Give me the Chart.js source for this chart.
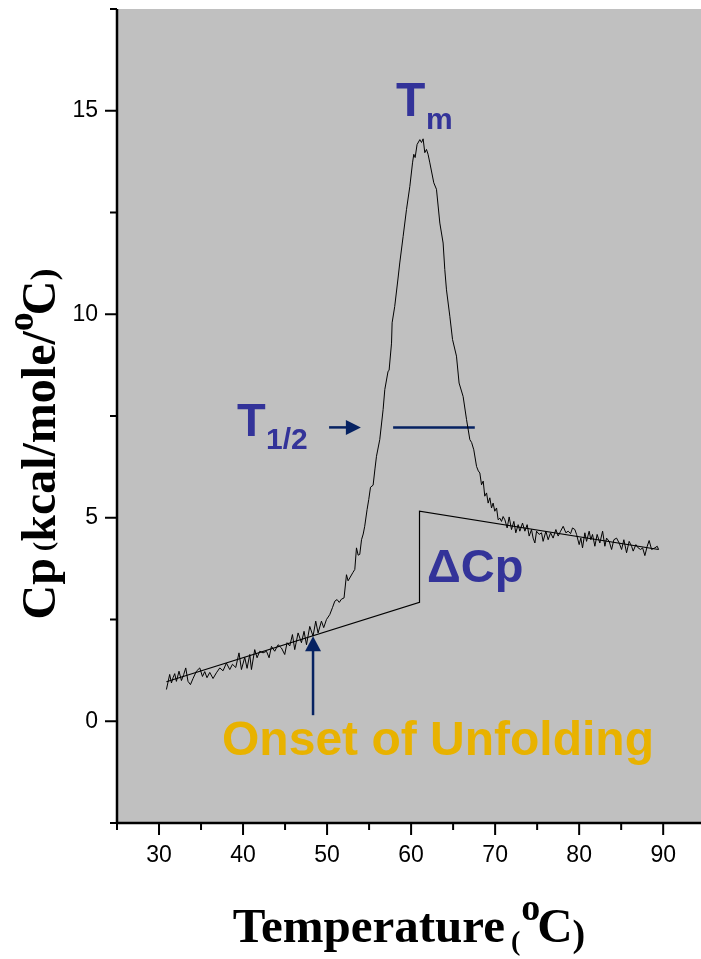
<!DOCTYPE html>
<html>
<head>
<meta charset="utf-8">
<title>DSC thermogram</title>
<script src="https://cdn.jsdelivr.net/npm/chart.js@4.4.1/dist/chart.umd.min.js"></script>
<style>
  html, body { margin: 0; padding: 0; background: #fff; }
  #wrap { width: 701px; height: 959px; }
</style>
</head>
<body>
<div id="wrap"><canvas id="dscChart" width="701" height="959"></canvas></div>
<script>
// excess heat capacity trace (°C, kcal/mole/°C)
const temperature = [
  30.88, 31.27, 31.48, 31.67, 31.87, 32.07, 32.38, 32.67, 32.94, 33.18,
  33.45, 33.74, 34.05, 34.45, 34.85, 35.17, 35.44, 35.71, 36.04, 36.43,
  36.83, 37.23, 37.62, 38.02, 38.42, 38.74, 39.13, 39.52, 39.81, 40.20,
  40.48, 40.80, 41.00, 41.39, 41.67, 41.99, 42.38, 42.79, 43.10, 43.38,
  43.77, 44.17, 44.57, 44.96, 45.24, 45.56, 45.88, 46.15, 46.55, 46.95,
  47.26, 47.55, 47.94, 48.33, 48.65, 48.93, 49.33, 49.60, 49.93, 50.32,
  50.64, 50.92, 51.19, 51.45, 51.71, 52.02, 52.31, 52.50, 52.70, 53.06,
  53.30, 53.50, 53.70, 53.89, 54.10, 54.30, 54.48, 54.76, 54.96, 55.17,
  55.48, 55.70, 55.88, 56.27, 56.67, 56.87, 57.26, 57.38, 57.67, 57.74,
  58.05, 58.45, 58.65, 59.05, 59.45, 59.85, 60.17, 60.32, 60.48, 60.71,
  61.04, 61.24, 61.43, 61.63, 61.83, 62.02, 62.23, 62.70, 63.02, 63.42,
  63.81, 64.01, 64.21, 64.61, 64.93, 65.40, 65.71, 66.19, 66.60, 66.99,
  67.20, 67.46, 67.79, 68.00, 68.18, 68.38, 68.58, 68.77, 68.98, 69.17,
  69.37, 69.57, 69.76, 69.96, 70.17, 70.36, 70.56, 70.76, 70.95, 71.16,
  71.43, 71.67, 71.95, 72.23, 72.46, 72.74, 72.94, 73.26, 73.54, 73.81,
  74.05, 74.33, 74.52, 74.73, 74.93, 75.24, 75.52, 75.71, 76.04, 76.31,
  76.60, 76.90, 77.23, 77.50, 77.79, 78.10, 78.42, 78.69, 78.98, 79.21,
  79.49, 79.69, 80.00, 80.20, 80.40, 80.68, 80.88, 81.19, 81.39, 81.59,
  81.87, 82.14, 82.46, 82.79, 83.06, 83.26, 83.57, 83.86, 84.13, 84.45,
  84.76, 85.05, 85.32, 85.64, 85.95, 86.24, 86.43, 86.75, 87.02, 87.31,
  87.55, 87.82, 88.10, 88.33, 88.62, 89.01, 89.29, 89.45
];
const cp = [
  0.78, 1.15, 0.94, 1.07, 1.17, 0.98, 1.23, 1.00, 1.15, 1.31,
  0.98, 0.90, 1.05, 1.23, 1.31, 1.10, 1.22, 1.07, 1.20, 1.05,
  1.19, 1.31, 1.24, 1.43, 1.27, 1.40, 1.32, 1.68, 1.27, 1.57,
  1.30, 1.64, 1.27, 1.76, 1.56, 1.72, 1.68, 1.72, 1.56, 1.84,
  1.72, 1.88, 1.80, 1.64, 1.93, 1.85, 2.13, 1.76, 2.17, 1.93,
  2.21, 1.88, 2.33, 2.09, 2.46, 2.17, 2.46, 2.30, 2.50, 2.62,
  2.79, 2.95, 2.99, 2.92, 3.00, 3.03, 3.60, 3.45, 3.52, 3.65,
  3.73, 4.26, 4.08, 4.10, 4.46, 4.60, 4.79, 5.20, 5.45, 5.75,
  5.80, 6.20, 6.51, 6.92, 7.66, 8.15, 8.60, 8.62, 9.29, 9.79,
  10.19, 10.89, 11.26, 11.91, 12.57, 13.14, 13.72, 13.93, 13.85, 14.17,
  14.29, 14.22, 14.31, 13.97, 14.05, 13.93, 13.72, 13.23, 13.07, 12.24,
  11.75, 11.10, 10.60, 9.95, 9.38, 8.97, 8.31, 7.98, 7.41, 6.92,
  6.85, 6.67, 6.26, 6.15, 6.10, 5.81, 5.90, 5.53, 5.61, 5.36,
  5.49, 5.24, 5.36, 5.16, 5.24, 4.95, 4.99, 4.91, 5.03, 4.95,
  4.75, 5.02, 4.71, 4.91, 4.63, 4.83, 4.67, 4.87, 4.67, 4.83,
  4.55, 4.71, 4.50, 4.38, 4.67, 4.59, 4.63, 4.42, 4.67, 4.46,
  4.63, 4.50, 4.71, 4.55, 4.67, 4.79, 4.63, 4.67, 4.61, 4.75,
  4.71, 4.59, 4.34, 4.50, 4.26, 4.63, 4.42, 4.67, 4.46, 4.59,
  4.30, 4.59, 4.38, 4.67, 4.30, 4.50, 4.42, 4.22, 4.46, 4.50,
  4.38, 4.22, 4.46, 4.14, 4.42, 4.30, 4.18, 4.34, 4.26, 4.22,
  4.26, 4.07, 4.30, 4.44, 4.22, 4.26, 4.30, 4.22
];

// pre- and post-transition baselines, joined by the ΔCp step
const baselineT = [30.88, 61.0, 61.0, 89.45];
const baselineCp = [0.97, 2.92, 5.16, 4.22];

// half-height chord across the peak (T1/2)
const halfT = [57.86, 67.58];
const halfCp = [7.22, 7.22];

// axis ticks
const xMajor = [30, 40, 50, 60, 70, 80, 90];
const xMinor = [25, 35, 45, 55, 65, 75, 85];
const yMajor = [0, 5, 10, 15];
const yMinor = [-2.5, 2.5, 7.5, 12.5, 17.5];

// annotation anchors in data units
const onsetT = 48.33;
const onsetCp = 2.09;
const halfArrowT = [50.24, 54.02];

const toPoints = (xs, ys) => xs.map((v, i) => ({ x: v, y: ys[i] }));

const SANS = '"Liberation Sans", Arial, sans-serif';
const SERIF = '"Liberation Serif", "Times New Roman", serif';
const BLUE = '#333399';
const NAVY = '#062262';
const GOLD = '#e8b200';

// draw a row of text pieces with their own fonts and offsets
function drawRuns(ctx, runs, cx, baseY) {
  let total = 0;
  runs.forEach(r => {
    ctx.font = r.font;
    r.w = ctx.measureText(r.text).width;
    total += r.w + (r.dx || 0);
  });
  let x = cx - total / 2;
  runs.forEach(r => {
    ctx.font = r.font;
    x += r.dx || 0;
    ctx.fillText(r.text, x, baseY + (r.dy || 0));
    x += r.w;
  });
}

const framePlugin = {
  id: 'frame',
  beforeDraw(chart) {
    const { ctx, chartArea: a } = chart;
    ctx.save();
    ctx.fillStyle = '#ffffff';
    ctx.fillRect(0, 0, chart.width, chart.height);
    ctx.fillStyle = '#c0c0c0';
    ctx.fillRect(a.left, a.top, a.right - a.left, a.bottom - a.top);
    ctx.restore();
  },
  afterDatasetsDraw(chart) {
    const { ctx, chartArea: a, scales: { x, y } } = chart;
    ctx.save();
    ctx.strokeStyle = '#000';
    ctx.lineWidth = 2.5;
    ctx.beginPath();
    ctx.moveTo(a.left, a.top);
    ctx.lineTo(a.left, a.bottom);
    ctx.moveTo(a.left, a.bottom);
    ctx.lineTo(a.right, a.bottom);
    ctx.stroke();

    ctx.lineWidth = 2;
    ctx.beginPath();
    yMajor.forEach(v => {
      const p = y.getPixelForValue(v);
      ctx.moveTo(a.left, p); ctx.lineTo(a.left - 12, p);
    });
    yMinor.forEach(v => {
      const p = y.getPixelForValue(v);
      ctx.moveTo(a.left, p); ctx.lineTo(a.left - 7, p);
    });
    xMajor.forEach(v => {
      const p = x.getPixelForValue(v);
      ctx.moveTo(p, a.bottom); ctx.lineTo(p, a.bottom + 12);
    });
    xMinor.forEach(v => {
      const p = x.getPixelForValue(v);
      ctx.moveTo(p, a.bottom); ctx.lineTo(p, a.bottom + 7);
    });
    ctx.stroke();
    ctx.restore();
  }
};

const notesPlugin = {
  id: 'notes',
  afterDraw(chart) {
    const { ctx, chartArea: a, scales: { x, y } } = chart;
    ctx.save();
    ctx.textBaseline = 'alphabetic';
    ctx.textAlign = 'left';

    // onset arrow pointing up to where the trace leaves the baseline
    const ox = x.getPixelForValue(onsetT);
    const oy = y.getPixelForValue(onsetCp);
    ctx.strokeStyle = NAVY;
    ctx.fillStyle = NAVY;
    ctx.lineWidth = 2.5;
    ctx.beginPath();
    ctx.moveTo(ox, oy + 14);
    ctx.lineTo(ox, oy + 79);
    ctx.stroke();
    ctx.beginPath();
    ctx.moveTo(ox, oy);
    ctx.lineTo(ox - 8, oy + 15);
    ctx.lineTo(ox + 8, oy + 15);
    ctx.closePath();
    ctx.fill();

    // T1/2 arrow
    const hy = y.getPixelForValue(halfCp[0]);
    const hx0 = x.getPixelForValue(halfArrowT[0]);
    const hx1 = x.getPixelForValue(halfArrowT[1]);
    ctx.beginPath();
    ctx.moveTo(hx0, hy);
    ctx.lineTo(hx1 - 14, hy);
    ctx.stroke();
    ctx.beginPath();
    ctx.moveTo(hx1, hy);
    ctx.lineTo(hx1 - 15, hy - 7.5);
    ctx.lineTo(hx1 - 15, hy + 7.5);
    ctx.closePath();
    ctx.fill();

    // blue labels
    ctx.fillStyle = BLUE;
    ctx.font = 'bold 48px ' + SANS;
    ctx.fillText('T', 396, 116);
    ctx.font = 'bold 30px ' + SANS;
    ctx.fillText('m', 426, 129);

    ctx.font = 'bold 47px ' + SANS;
    ctx.fillText('T', 237, 436);
    ctx.font = 'bold 30px ' + SANS;
    ctx.fillText('1/2', 266, 449);

    ctx.font = 'bold 47px ' + SANS;
    ctx.fillText('\u0394Cp', 427, 582);

    // onset label
    ctx.fillStyle = GOLD;
    ctx.font = 'bold 48px ' + SANS;
    ctx.textAlign = 'center';
    ctx.fillText('Onset of Unfolding', 438, 755);
    ctx.textAlign = 'left';

    // axis titles
    ctx.fillStyle = '#000';
    drawRuns(ctx, [
      { text: 'Temperature', font: 'bold 49px ' + SERIF },
      { text: '(', font: 'bold 28px ' + SERIF, dx: 6, dy: 8 },
      { text: 'o', font: 'bold 38px ' + SERIF, dx: 1, dy: -22 },
      { text: 'C', font: 'bold 49px ' + SERIF, dx: -3 },
      { text: ')', font: 'bold 38px ' + SERIF, dy: 4 }
    ], (a.left + a.right) / 2, 942);

    ctx.translate(55, 444);
    ctx.rotate(-Math.PI / 2);
    drawRuns(ctx, [
      { text: 'Cp', font: 'bold 48px ' + SERIF },
      { text: '(', font: 'bold 28px ' + SERIF, dx: 7, dy: -3 },
      { text: 'kcal/mole/', font: 'bold 48px ' + SERIF },
      { text: 'o', font: 'bold 38px ' + SERIF, dy: -22 },
      { text: 'C', font: 'bold 48px ' + SERIF, dx: -3 },
      { text: ')', font: 'bold 36px ' + SERIF, dy: 0 }
    ], 0, 0);
    ctx.restore();
  }
};

Chart.defaults.font.family = SANS;

new Chart(document.getElementById('dscChart'), {
  type: 'line',
  data: {
    datasets: [
      {
        label: 'Cp',
        data: toPoints(temperature, cp),
        borderColor: '#000',
        borderWidth: 1,
        pointRadius: 0,
        tension: 0
      },
      {
        label: 'Baseline',
        data: toPoints(baselineT, baselineCp),
        borderColor: '#000',
        borderWidth: 1.2,
        pointRadius: 0,
        tension: 0
      },
      {
        label: 'Half height',
        data: toPoints(halfT, halfCp),
        borderColor: NAVY,
        borderWidth: 2.5,
        pointRadius: 0,
        tension: 0
      }
    ]
  },
  options: {
    responsive: false,
    animation: false,
    devicePixelRatio: 1,
    layout: { padding: { top: 9, left: 0, right: 0, bottom: 0 } },
    plugins: {
      legend: { display: false },
      tooltip: { enabled: false }
    },
    scales: {
      x: {
        type: 'linear',
        min: 25,
        max: 94.5,
        afterBuildTicks: scale => {
          scale.ticks = xMinor.concat(xMajor).sort((p, q) => p - q).map(v => ({ value: v }));
        },
        ticks: {
          callback: v => (xMajor.includes(v) ? String(v) : null),
          color: '#000',
          font: { size: 23 },
          padding: 7,
          maxRotation: 0,
          autoSkip: false
        },
        grid: { display: false, drawTicks: true, tickLength: 12 },
        border: { display: false },
        afterFit: scale => {
          scale.height = 136;
          scale.paddingLeft = 0;
          scale.paddingRight = 0;
        }
      },
      y: {
        type: 'linear',
        min: -2.5,
        max: 17.5,
        afterBuildTicks: scale => {
          scale.ticks = yMinor.concat(yMajor).sort((p, q) => p - q).map(v => ({ value: v }));
        },
        ticks: {
          callback: v => (yMajor.includes(v) ? String(v) : null),
          color: '#000',
          font: { size: 23 },
          padding: 7,
          autoSkip: false
        },
        grid: { display: false, drawTicks: true, tickLength: 12 },
        border: { display: false },
        afterFit: scale => {
          scale.width = 117;
          scale.paddingTop = 0;
          scale.paddingBottom = 0;
        }
      }
    }
  },
  plugins: [framePlugin, notesPlugin]
});
</script>
</body>
</html>
